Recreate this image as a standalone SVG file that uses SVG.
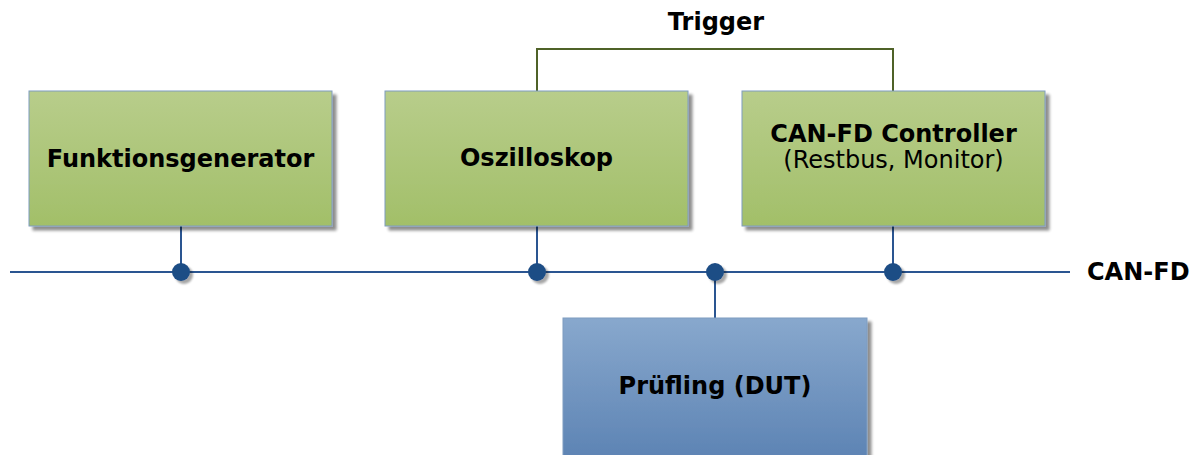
<svg xmlns="http://www.w3.org/2000/svg" width="1197" height="455" viewBox="0 0 1197 455">
  <defs>
    <linearGradient id="gGreen" x1="0" y1="0" x2="0" y2="1">
      <stop offset="0" stop-color="#b8cd8b"/>
      <stop offset="1" stop-color="#a2bf69"/>
    </linearGradient>
    <linearGradient id="gBlue" x1="0" y1="0" x2="0" y2="1">
      <stop offset="0" stop-color="#88a8cd"/>
      <stop offset="1" stop-color="#5a81b2"/>
    </linearGradient>
    <filter id="shadow" x="-10%" y="-10%" width="130%" height="130%">
      <feGaussianBlur in="SourceAlpha" stdDeviation="1.5"/>
      <feOffset dx="4" dy="4" result="b"/>
      <feComponentTransfer><feFuncA type="linear" slope="0.45"/></feComponentTransfer>
      <feMerge><feMergeNode/><feMergeNode in="SourceGraphic"/></feMerge>
    </filter>
    <filter id="dotShadow" x="-50%" y="-50%" width="200%" height="200%">
      <feGaussianBlur in="SourceAlpha" stdDeviation="1"/>
      <feOffset dx="3" dy="3"/>
      <feComponentTransfer><feFuncA type="linear" slope="0.35"/></feComponentTransfer>
      <feMerge><feMergeNode/><feMergeNode in="SourceGraphic"/></feMerge>
    </filter>
  </defs>
  <style>
    .box { stroke: #7f9cc0; stroke-width: 1; filter: url(#shadow); }
    .green { fill: url(#gGreen); }
    .blue { fill: url(#gBlue); }
    .t { font-family: "DejaVu Sans", Verdana, sans-serif; font-size: 24px; font-weight: bold; fill: #000; text-anchor: middle; }
    .sub { font-family: "DejaVu Sans", Verdana, sans-serif; font-size: 24px; fill: #000; text-anchor: middle; }
    .bus { stroke: #2a5591; stroke-width: 2; fill: none; }
    .trig { stroke: #4f6228; stroke-width: 2; fill: none; }
    .dot { fill: #1f4d85; filter: url(#dotShadow); }
  </style>

  <!-- connectors: bus, drops and trigger line -->
  <g id="connectors">
    <line class="bus" x1="10" y1="272" x2="1070" y2="272"/>
    <line class="bus" x1="181" y1="226" x2="181" y2="272"/>
    <line class="bus" x1="537" y1="226" x2="537" y2="272"/>
    <line class="bus" x1="893" y1="226" x2="893" y2="272"/>
    <line class="bus" x1="715" y1="272" x2="715" y2="318"/>
    <polyline class="trig" points="537,91 537,49 893,49 893,91"/>
    <circle class="dot" cx="181" cy="272" r="9"/>
    <circle class="dot" cx="537" cy="272" r="9"/>
    <circle class="dot" cx="715" cy="272" r="9"/>
    <circle class="dot" cx="893" cy="272" r="9"/>
  </g>

  <text class="t" x="716" y="30">Trigger</text>
  <text class="t" x="1087" y="280" style="text-anchor:start">CAN-FD</text>

  <g id="funktionsgenerator">
    <rect class="box green" x="29" y="91" width="303" height="135"/>
    <text class="t" x="180.5" y="167">Funktionsgenerator</text>
  </g>

  <g id="oszilloskop">
    <rect class="box green" x="385" y="91" width="303" height="135"/>
    <text class="t" x="536.5" y="166">Oszilloskop</text>
  </g>

  <g id="canfd-controller">
    <rect class="box green" x="742" y="91" width="303" height="135"/>
    <text class="t" x="893.5" y="142">CAN-FD Controller</text>
    <text class="sub" x="893.5" y="168">(Restbus, Monitor)</text>
  </g>

  <g id="pruefling">
    <rect class="box blue" x="563" y="318" width="304" height="150"/>
    <text class="t" x="715" y="394">Prüfling (DUT)</text>
  </g>
</svg>
